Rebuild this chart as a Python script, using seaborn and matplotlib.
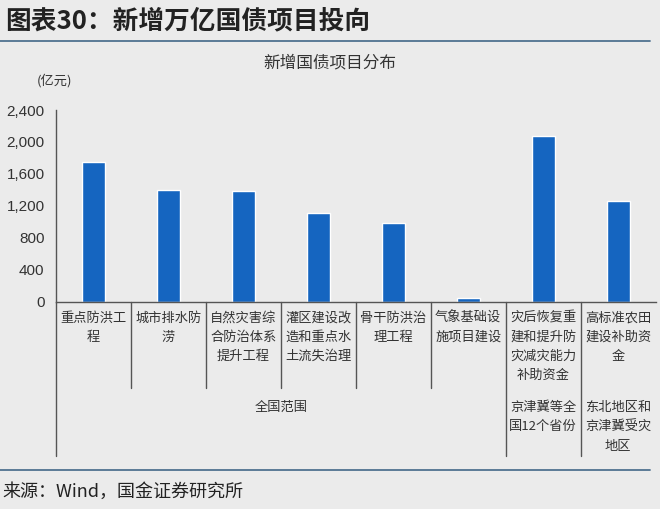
import matplotlib
matplotlib.use("Agg")
import matplotlib.pyplot as plt
import seaborn as sns
import pandas as pd
from matplotlib.lines import Line2D

categories = ["重点防洪工\n程", "城市排水防\n涝", "自然灾害综\n合防治体系\n提升工程",
              "灌区建设改\n造和重点水\n土流失治理", "骨干防洪治\n理工程", "气象基础设\n施项目建设",
              "灾后恢复重\n建和提升防\n灾减灾能力\n补助资金", "高标准农田\n建设补助资\n金"]
values = [1750, 1400, 1380, 1115, 985, 50, 2080, 1260]
yticks = [0, 400, 800, 1200, 1600, 2000, 2400]
ytick_labels = ["0", "400", "800", "1,200", "1,600", "2,000", "2,400"]
group_labels = ["全国范围", "京津冀等全\n国12个省份", "东北地区和\n京津冀受灾\n地区"]
group_spans = [(0, 5), (6, 6), (7, 7)]

title = "图表30：新增万亿国债项目投向"
subtitle = "新增国债项目分布"
unit = "(亿元)"
source = "来源：Wind，国金证券研究所"

sns.set_style("white")
plt.rcParams['font.family'] = ['Noto Sans CJK SC', 'DejaVu Sans']

BG = "#ebebeb"
BAR = "#1565c0"
TXT = "#333333"
LINE = "#555555"

W, H = 660, 509
fig = plt.figure(figsize=(W / 100, H / 100), dpi=100, facecolor=BG)

ax_left, ax_right = 55.7, 655.7
ax_top, ax_bot = 110.0, 301.7
ax = fig.add_axes([ax_left / W, 1 - ax_bot / H, (ax_right - ax_left) / W, (ax_bot - ax_top) / H])
ax.set_facecolor(BG)

df = pd.DataFrame({"cat": categories, "val": values})
sns.barplot(data=df, x="cat", y="val", color=BAR, saturation=1, width=0.31, ax=ax)

ax.set_xlim(-0.5, len(categories) - 0.5)
ax.set_ylim(0, 2400)
ax.set_xlabel("")
ax.set_ylabel("")
ax.set_yticks(yticks)
ax.set_yticklabels(ytick_labels, family=['Liberation Sans', 'DejaVu Sans'], fontsize=11, color=TXT)
ax.tick_params(axis='y', length=3, width=0.8, color=LINE, pad=5, direction='out')
ax.tick_params(axis='x', length=0, pad=7)
for lab in ax.get_xticklabels():
    lab.set_fontsize(9.5)
    lab.set_color(TXT)
    lab.set_linespacing(1.62)
    lab.set_verticalalignment('top')

for s in ["top", "right"]:
    ax.spines[s].set_visible(False)
for s in ["left", "bottom"]:
    ax.spines[s].set_color(LINE)
    ax.spines[s].set_linewidth(1.0)

axh = ax_bot - ax_top
def frac(py):
    return (ax_bot - py) / axh

tr = ax.get_xaxis_transform()
# left axis extension
ax.add_line(Line2D([-0.5, -0.5], [0, frac(456)], transform=tr, color=LINE, lw=1.0, clip_on=False))
for b in range(len(categories) - 1):
    xb = b + 0.5
    end = 388 if b < 5 else 456
    ax.add_line(Line2D([xb, xb], [0, frac(end)], transform=tr, color=LINE, lw=1.0, clip_on=False))

for lab, (a, b) in zip(group_labels, group_spans):
    xc = (a + b) / 2
    ax.text(xc, frac(401), lab, transform=tr, ha='center', va='top', fontsize=9.5,
            color=TXT, linespacing=1.62)

fig.text(5 / W, 1 - 21 / H, title, fontsize=18.5, fontweight='bold', color="#222222",
         va='center', ha='left', fontstyle='italic')
fig.add_artist(Line2D([0, 650 / W], [1 - 41 / H, 1 - 41 / H], transform=fig.transFigure,
                      color="#4f7290", lw=1.3))
fig.text(330 / W, 1 - 63 / H, subtitle, fontsize=12, color=TXT, ha='center', va='center')
fig.text(55 / W, 1 - 81 / H, unit, fontsize=9.5, color=TXT, ha='center', va='center')
fig.add_artist(Line2D([0, 650 / W], [1 - 470 / H, 1 - 470 / H], transform=fig.transFigure,
                      color="#4f7290", lw=1.3))
fig.text(2 / W, 1 - 492 / H, source, fontsize=13, color="#222222", ha='left', va='center')

fig.savefig("out.png", dpi=100, facecolor=BG)
